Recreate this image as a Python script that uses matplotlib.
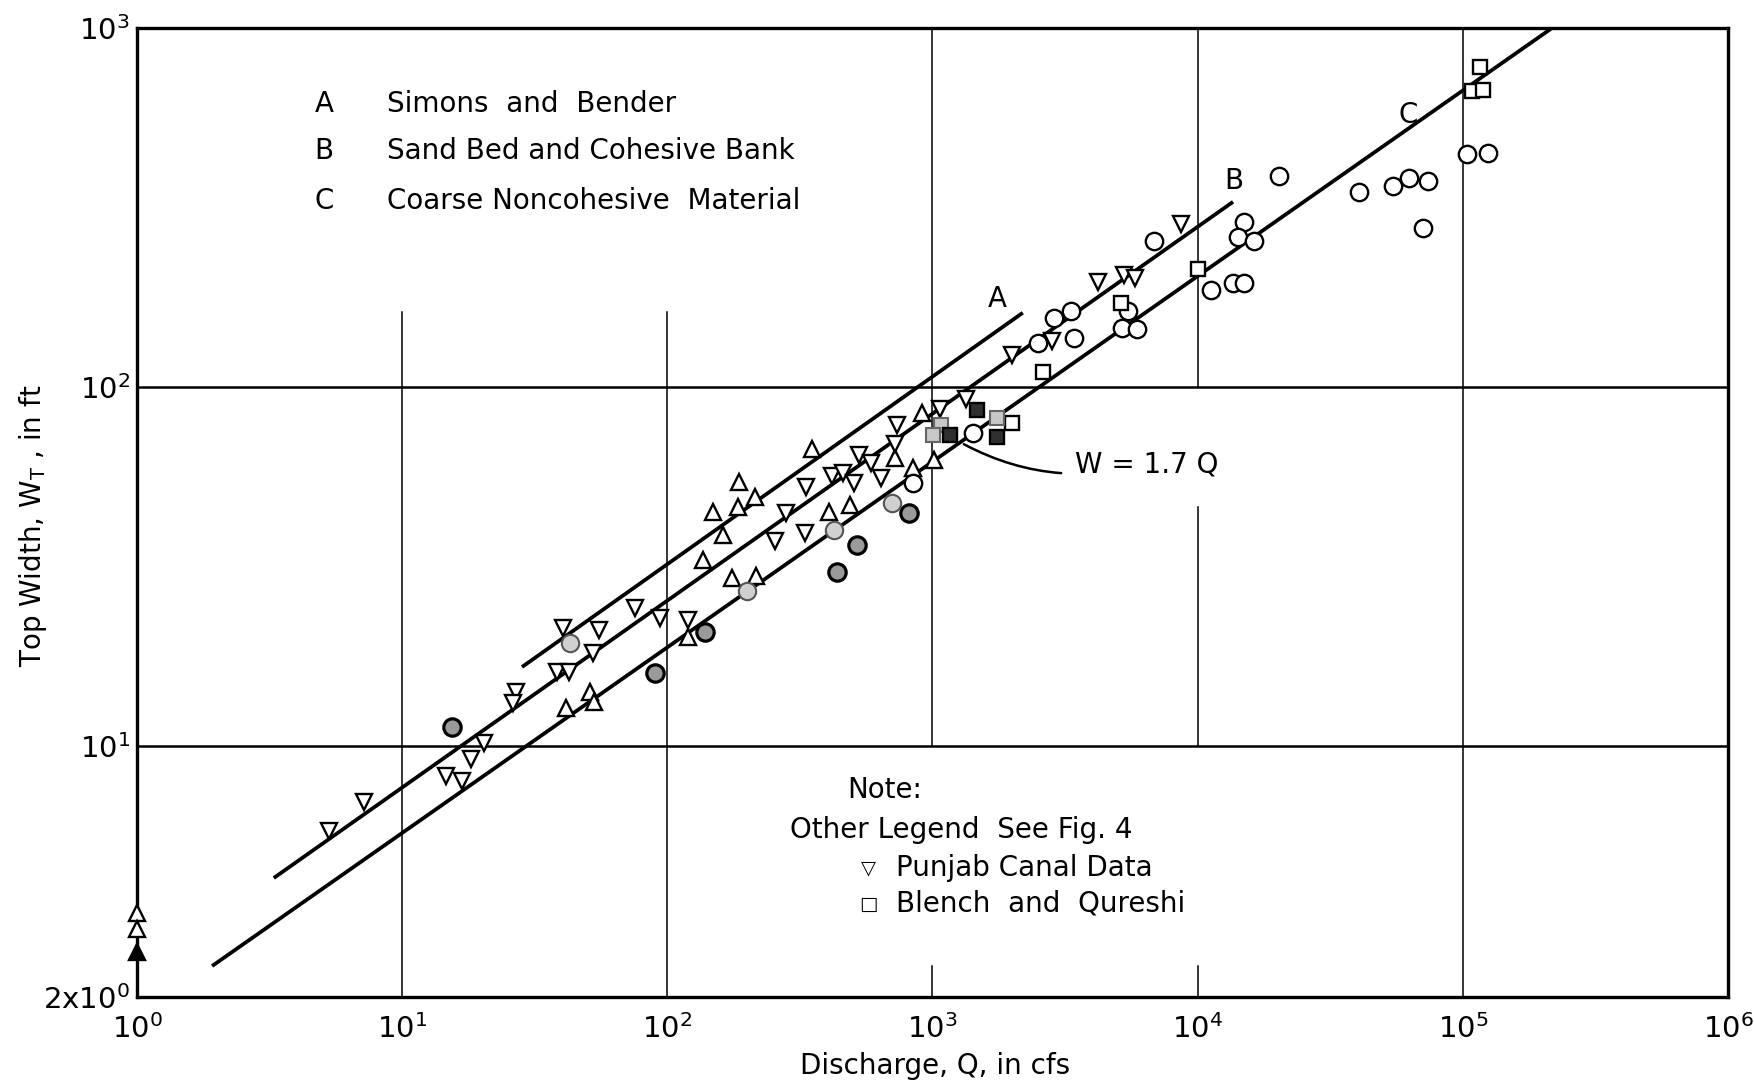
import matplotlib
matplotlib.use("Agg")
import matplotlib.pyplot as plt
from matplotlib.ticker import NullLocator

plt.rcParams['font.family'] = ['DejaVu Sans']
plt.rcParams['mathtext.default'] = 'regular'

# Simons and Bender (open up-triangles)
simons_q = [51.1, 52.9, 41.5, 351, 186, 214, 185, 149, 162, 136, 175, 216,
            407, 488, 722, 844, 120, 912, 1012]
simons_w = [14.1, 13.3, 12.8, 67.2, 54.4, 49.4, 46.3, 44.9, 38.7, 33.0, 29.4, 29.8,
            44.9, 46.9, 63.4, 59.5, 20.1, 84.7, 62.6]
# points sitting on the Q = 1 axis
axis_q = [1.0, 1.0]
axis_w = [3.43, 3.09]
axis_fill_q = [1.0]
axis_fill_w = [2.67]

# Punjab canal data (down-triangles)
punjab_q = [40.4, 55.2, 52.4, 38.4, 42.6, 26.9, 26.2, 20.3, 18.2, 14.6, 16.8, 7.18,
            5.30, 734, 528, 586, 418, 459, 505, 639, 333, 280, 255, 330,
            75.5, 93.8, 120, 722, 1066, 1337, 1992, 2820, 8650, 4205, 5270, 5795]
punjab_w = [21.3, 21.0, 18.2, 16.1, 16.1, 14.1, 13.2, 10.2, 9.2, 8.25, 8.0, 6.98,
            5.80, 78.4, 64.7, 61.4, 56.5, 57.6, 54.0, 55.8, 52.7, 44.6, 37.2, 39.2,
            24.2, 22.7, 22.4, 69.4, 86.8, 92.6, 123, 134, 284, 196, 205, 201]

# coarse noncohesive material (open circles)
circ_q = [2497, 3414, 2871, 3326, 5455, 5178, 5900, 6838, 14930, 14180, 16290, 11220,
          13580, 14930, 20230, 40550, 54450, 62530, 73790, 70610, 103500, 124200,
          1420, 844]
circ_w = [133, 137, 156, 163, 163, 146, 145, 255, 288, 262, 255, 186,
          195, 195, 387, 349, 363, 382, 375, 277, 446, 449,
          74.5, 54.0]
# shaded circles
circ_dark_q = [15.4, 89.8, 139, 519, 436, 815]
circ_dark_w = [11.3, 16.0, 20.8, 36.3, 30.5, 44.6]
circ_light_q = [42.9, 200, 425, 703]
circ_light_w = [19.4, 27.0, 40.0, 47.5]

# Blench and Qureshi (squares)
sq_q = [2608, 1992, 10020, 5130, 115900, 108200, 118900]
sq_w = [110, 79.4, 213, 171, 779, 668, 672]
sq_light_q = [1076, 1004, 1750]
sq_light_w = [78.4, 73.5, 82.0]
sq_dark_q = [1470, 1164, 1750]
sq_dark_w = [86.3, 73.5, 72.6]

# fitted lines A, B, C (end points)
line_a_q = [28.3, 2190]
line_a_w = [16.6, 161]
line_b_q = [3.28, 13600]
line_b_w = [4.29, 328]
line_c_q = [1.92, 2.17e5]
line_c_w = [2.44, 1000]

# grid as drawn on the original sheet: (Q, W from, W to)
vgrid = [(10, 162, 2), (100, 162, 2), (1000, 1000, 10), (1000, 2.44, 2),
         (1e4, 1000, 100), (1e4, 46.3, 10), (1e4, 2.44, 2), (1e5, 1000, 2)]
hgrid = [10, 100]

xticks = [1, 10, 100, 1e3, 1e4, 1e5, 1e6]
xlabels = [r'$10^{%d}$' % i for i in range(7)]
yticks = [2, 10, 100, 1000]
ylabels = [r'$2x10^{0}$', r'$10^{1}$', r'$10^{2}$', r'$10^{3}$']

fig = plt.figure(figsize=(17.54, 10.88), dpi=100)
ax = fig.add_axes([137 / 1754, 91 / 1088, 1591 / 1754, 969 / 1088])
ax.set_xscale('log')
ax.set_yscale('log')
ax.set_xlim(1, 1e6)
ax.set_ylim(2, 1000)

for q, w0, w1 in vgrid:
    ax.plot([q, q], [w0, w1], color='black', lw=1.1, zorder=1)
for w in hgrid:
    ax.axhline(w, color='black', lw=1.8, zorder=1)

for lq, lw_ in [(line_a_q, line_a_w), (line_b_q, line_b_w), (line_c_q, line_c_w)]:
    ax.plot(lq, lw_, color='black', lw=2.7, solid_capstyle='butt', zorder=2)

mk = dict(linestyle='none', markeredgecolor='black', zorder=3)
ax.plot(simons_q, simons_w, marker='^', ms=11, mew=1.7, mfc='white', **mk)
ax.plot(axis_q, axis_w, marker='^', ms=11, mew=1.7, mfc='white', clip_on=False, **mk)
ax.plot(axis_fill_q, axis_fill_w, marker='^', ms=11, mew=1.7, mfc='black', clip_on=False, **mk)
ax.plot(punjab_q, punjab_w, marker='v', ms=11, mew=1.7, mfc='white', **mk)
ax.plot(circ_q, circ_w, marker='o', ms=12.5, mew=1.7, mfc='white', **mk)
ax.plot(circ_dark_q, circ_dark_w, marker='o', ms=12.5, mew=2.3, mfc='#9a9a9a', **mk)
ax.plot(circ_light_q, circ_light_w, marker='o', ms=12.5, mew=1.5, mfc='#d0d0d0',
        linestyle='none', markeredgecolor='#555555', zorder=3)
ax.plot(sq_q, sq_w, marker='s', ms=9.5, mew=1.7, mfc='white', **mk)
ax.plot(sq_light_q, sq_light_w, marker='s', ms=9.5, mew=1.5, mfc='#c8c8c8',
        linestyle='none', markeredgecolor='#666666', zorder=3)
ax.plot(sq_dark_q, sq_dark_w, marker='s', ms=9.5, mew=1.7, mfc='#303030', **mk)

# curve labels
ax.text(1750, 176, 'A', fontsize=20, ha='center', va='center')
ax.text(13700, 375, 'B', fontsize=20, ha='center', va='center')
ax.text(62000, 573, 'C', fontsize=20, ha='center', va='center')

ax.annotate('W = 1.7 Q', xy=(1313, 69.3), xytext=(0.5896, 0.550),
            textcoords='axes fraction', fontsize=20, va='center', ha='left',
            arrowprops=dict(arrowstyle='-', color='black', lw=1.8,
                            connectionstyle='arc3,rad=-0.2', shrinkA=8, shrinkB=0))

# legend of curves
tr = ax.transAxes
for y, key, txt in [(0.9216, 'A', 'Simons  and  Bender'),
                    (0.873, 'B', 'Sand Bed and Cohesive Bank'),
                    (0.8215, 'C', 'Coarse Noncohesive  Material')]:
    ax.text(0.1175, y, key, transform=tr, fontsize=20, ha='center', va='center')
    ax.text(0.157, y, txt, transform=tr, fontsize=20, ha='left', va='center')

# note block
ax.text(0.4463, 0.2136, 'Note:', transform=tr, fontsize=20, ha='left', va='center')
ax.text(0.4104, 0.1723, 'Other Legend  See Fig. 4', transform=tr, fontsize=20,
        ha='left', va='center')
ax.text(0.460, 0.1331, '\u25bd', transform=tr, fontsize=14, ha='center', va='center')
ax.text(0.477, 0.1331, 'Punjab Canal Data', transform=tr, fontsize=20, ha='left', va='center')
ax.text(0.460, 0.096, '\u25a1', transform=tr, fontsize=14, ha='center', va='center')
ax.text(0.477, 0.096, 'Blench  and  Qureshi', transform=tr, fontsize=20, ha='left', va='center')

ax.set_xticks(xticks)
ax.set_xticklabels(xlabels)
ax.set_yticks(yticks)
ax.set_yticklabels(ylabels)
ax.xaxis.set_minor_locator(NullLocator())
ax.yaxis.set_minor_locator(NullLocator())
ax.tick_params(axis='both', length=0, labelsize=21)
ax.tick_params(axis='x', pad=12)
ax.tick_params(axis='y', pad=5)

ax.set_xlabel('Discharge, Q, in cfs', fontsize=20)
ax.set_ylabel(r'Top Width, $W_T$ , in ft', fontsize=20)
ax.xaxis.set_label_coords(0.5016, -0.057)
ax.yaxis.set_label_coords(-0.055, 0.486)

for s in ax.spines.values():
    s.set_linewidth(2.4)

fig.savefig('out.png', dpi=100)
